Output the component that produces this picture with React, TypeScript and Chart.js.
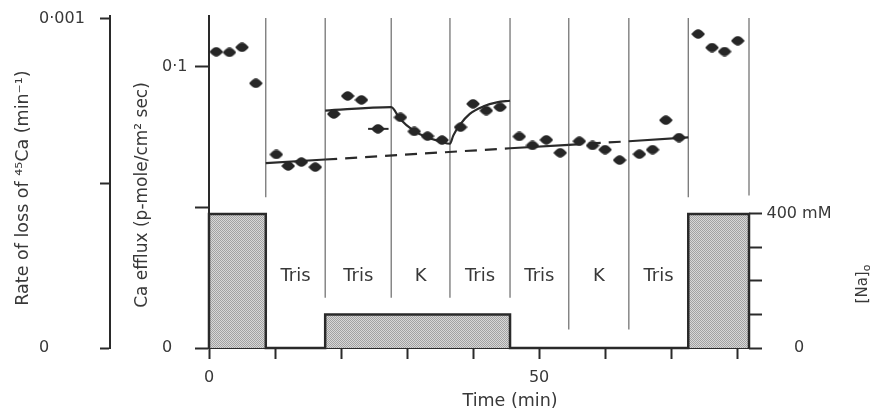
import React, { useEffect, useRef } from 'react';
import { Chart, registerables } from 'chart.js';

Chart.register(...registerables);

const FONT = '"DejaVu Sans", "Liberation Sans", sans-serif';
const INK = '#2a2a2a';
const TEXT = '#383838';

// Ca efflux measurements (time in min, efflux in p-mole/cm² sec)
const effluxTimes = [1.1, 3.1, 5.0, 7.1, 10.2, 12.0, 14.0, 16.1, 18.9, 21.0, 23.1, 25.6, 29.0, 31.1, 33.1, 35.3, 38.1, 40.0, 42.0, 44.1, 47.0, 49.0, 51.1, 53.2, 56.1, 58.1, 60.0, 62.2, 65.2, 67.2, 69.2, 71.2, 74.1, 76.2, 78.1, 80.1];
const effluxValues = [0.1053, 0.1051, 0.1069, 0.0941, 0.0688, 0.0647, 0.0661, 0.0643, 0.0832, 0.0896, 0.0882, 0.0779, 0.0820, 0.0770, 0.0753, 0.0739, 0.0785, 0.0868, 0.0844, 0.0856, 0.0752, 0.0720, 0.0740, 0.0694, 0.0735, 0.0720, 0.0705, 0.0668, 0.0689, 0.0705, 0.0810, 0.0748, 0.1116, 0.1068, 0.1054, 0.1092];

// Baseline (solid in Tris periods, dashed otherwise)
const baselineTimes = [8.6, 17.6, 45.6, 54.5, 63.6, 72.6];
const baselineValues = [0.0657, 0.0670, 0.0710, 0.0722, 0.0735, 0.0749];
const baselineDashed = [false, true, false, true, false];

// Fitted curve through the low-Na Tris / K / Tris periods
const fitTimes = [17.6, 27.6, 28.9, 31.0, 33.0, 35.0, 36.5, 37.0, 38.0, 39.5, 41.6, 43.6, 45.6];
const fitValues = [0.0844, 0.0856, 0.0815, 0.0773, 0.0749, 0.0735, 0.0726, 0.0755, 0.0793, 0.0832, 0.0859, 0.0873, 0.0879];

// Short horizontal mark through the point at 25.6 min
const markTimes = [24.1, 27.2];
const markValues = [0.0779, 0.0779];

// External Na concentration periods (mM)
const naStarts = [0, 17.6, 72.6];
const naEnds = [8.6, 45.6, 81.8];
const naLevels = [400, 100, 400];

// Solution-change dividers (time) and where they stop (in mM of the Na axis)
const dividerTimes = [8.6, 17.6, 27.6, 36.5, 45.6, 54.5, 63.6, 72.6, 81.8];
const dividerBottoms = [450, 150, 150, 150, 150, 55, 55, 450, 455];
const dividerTop = 985;

const periodNames = ['Tris', 'Tris', 'K', 'Tris', 'Tris', 'K', 'Tris'];
const periodLabelLevel = 200;

// Ticks
const timeTicks = [0, 10, 20, 30, 40, 50, 60, 70, 80];
const timeTickLabels = ['0', '', '', '', '', '50', '', '', ''];
const caTicks = [0, 0.05, 0.1];
const caTickLabels = ['0', '', '0·1'];
const rateTicks = [0, 0.0005, 0.001];
const rateTickLabels = ['0', '', '0·001'];
const naTicks = [0, 100, 200, 300, 400];
const naTickLabels = ['0', '', '', '', '400 mM'];

const annotatePlugin = {
  id: 'annotate',
  afterDraw(chart: any) {
    const { ctx, scales } = chart;
    const xs = scales.x;
    const ca = scales.ca;
    const rate = scales.rate;
    const na = scales.na;
    ctx.save();
    ctx.fillStyle = TEXT;

    // y tick labels
    ctx.font = `16px ${FONT}`;
    ctx.textBaseline = 'middle';
    ctx.textAlign = 'left';
    rateTicks.forEach((v, i) => {
      if (rateTickLabels[i]) ctx.fillText(rateTickLabels[i], rate.right - 71, rate.getPixelForValue(v));
    });
    caTicks.forEach((v, i) => {
      if (caTickLabels[i]) ctx.fillText(caTickLabels[i], ca.right - 47, ca.getPixelForValue(v));
    });
    ctx.textAlign = 'center';
    naTicks.forEach((v, i) => {
      if (naTickLabels[i]) ctx.fillText(naTickLabels[i], na.left + 50, na.getPixelForValue(v));
    });

    // period labels
    ctx.font = `18px ${FONT}`;
    ctx.textBaseline = 'alphabetic';
    ctx.textAlign = 'center';
    periodNames.forEach((name, i) => {
      const mid = (dividerTimes[i] + dividerTimes[i + 1]) / 2;
      ctx.fillText(name, xs.getPixelForValue(mid), na.getPixelForValue(periodLabelLevel));
    });

    // x title
    ctx.font = `17.5px ${FONT}`;
    ctx.fillText('Time (min)', xs.getPixelForValue(45.6), 406);

    // left titles (rotated, reading bottom to top)
    const rotated = (text: string, x: number, y: number) => {
      ctx.save();
      ctx.translate(x, y);
      ctx.rotate(-Math.PI / 2);
      ctx.textAlign = 'center';
      ctx.textBaseline = 'alphabetic';
      ctx.fillText(text, 0, 0);
      ctx.restore();
    };
    ctx.font = `17.5px ${FONT}`;
    rotated('Rate of loss of \u2074\u2075Ca (min\u207B\u00B9)', 28, 188);
    ctx.font = `17px ${FONT}`;
    rotated('Ca efflux (p-mole/cm\u00B2 sec)', 147, 195);

    // [Na]o on the right
    ctx.save();
    ctx.translate(867, 284);
    ctx.rotate(-Math.PI / 2);
    ctx.textBaseline = 'alphabetic';
    ctx.textAlign = 'left';
    ctx.font = `15px ${FONT}`;
    const w1 = ctx.measureText('[Na]').width;
    ctx.font = `11px ${FONT}`;
    const w2 = ctx.measureText('o').width;
    const start = -(w1 + w2) / 2;
    ctx.font = `15px ${FONT}`;
    ctx.fillText('[Na]', start, 0);
    ctx.font = `11px ${FONT}`;
    ctx.fillText('o', start + w1, 3);
    ctx.restore();

    ctx.restore();
  },
};

export default function App() {
  const canvasRef = useRef<HTMLCanvasElement | null>(null);

  useEffect(() => {
    const canvas = canvasRef.current;
    if (!canvas) return;
    const c2d = canvas.getContext('2d')!;

    // stippled fill (fine checkerboard)
    const pc = document.createElement('canvas');
    pc.width = 2;
    pc.height = 2;
    const p = pc.getContext('2d')!;
    p.fillStyle = '#d8d8d8';
    p.fillRect(0, 0, 2, 2);
    p.fillStyle = '#a2a2a2';
    p.fillRect(0, 0, 1, 1);
    p.fillRect(1, 1, 1, 1);
    const pattern = c2d.createPattern(pc, 'repeat');

    // lens-shaped marker
    const mk = document.createElement('canvas');
    mk.width = 14;
    mk.height = 10;
    const m = mk.getContext('2d')!;
    m.fillStyle = '#262626';
    m.beginPath();
    m.moveTo(0.2, 5);
    m.quadraticCurveTo(3.8, 0.2, 7, 0.2);
    m.quadraticCurveTo(10.2, 0.2, 13.8, 5);
    m.quadraticCurveTo(10.2, 9.8, 7, 9.8);
    m.quadraticCurveTo(3.8, 9.8, 0.2, 5);
    m.closePath();
    m.fill();

    const naPoints: { x: number; y: number }[] = [];
    naStarts.forEach((s, i) => {
      naPoints.push({ x: s, y: 0 }, { x: s, y: naLevels[i] }, { x: naEnds[i], y: naLevels[i] }, { x: naEnds[i], y: 0 });
    });

    const dividerPoints: { x: number; y: number | null }[] = [];
    dividerTimes.forEach((t, i) => {
      dividerPoints.push({ x: t, y: dividerTop }, { x: t, y: dividerBottoms[i] }, { x: t, y: null });
    });

    const chart = new Chart(canvas, {
      type: 'line',
      data: {
        datasets: [
          {
            label: 'efflux',
            data: effluxTimes.map((t, i) => ({ x: t, y: effluxValues[i] })),
            yAxisID: 'ca',
            showLine: false,
            pointStyle: mk as any,
            pointRadius: 6,
            clip: false as any,
          },
          {
            label: 'mark',
            data: markTimes.map((t, i) => ({ x: t, y: markValues[i] })),
            yAxisID: 'ca',
            borderColor: INK,
            borderWidth: 2,
            pointRadius: 0,
          },
          {
            label: 'fit',
            data: fitTimes.map((t, i) => ({ x: t, y: fitValues[i] })),
            yAxisID: 'ca',
            borderColor: INK,
            borderWidth: 2.2,
            pointRadius: 0,
            cubicInterpolationMode: 'monotone',
          },
          {
            label: 'baseline',
            data: baselineTimes.map((t, i) => ({ x: t, y: baselineValues[i] })),
            yAxisID: 'ca',
            borderColor: INK,
            borderWidth: 2.2,
            pointRadius: 0,
            segment: {
              borderDash: (ctx: any) => (baselineDashed[ctx.p0DataIndex] ? [12, 8] : undefined),
            },
          },
          {
            label: 'dividers',
            data: dividerPoints,
            yAxisID: 'na',
            borderColor: '#6a6a6a',
            borderWidth: 1.2,
            pointRadius: 0,
            spanGaps: false,
            clip: false as any,
          },
          {
            label: 'Na',
            data: naPoints,
            yAxisID: 'na',
            borderColor: INK,
            borderWidth: 2.5,
            pointRadius: 0,
            fill: 'origin',
            backgroundColor: pattern as any,
            clip: false as any,
          },
        ],
      },
      options: {
        animation: false,
        responsive: false,
        maintainAspectRatio: false,
        layout: { padding: { top: 16, left: 0, right: 0, bottom: 0 } },
        plugins: { legend: { display: false }, tooltip: { enabled: false } },
        events: [],
        scales: {
          x: {
            type: 'linear',
            min: 0,
            max: 81.8,
            afterBuildTicks: (s: any) => {
              s.ticks = timeTicks.map((v) => ({ value: v }));
            },
            afterFit: (s: any) => {
              s.height = 62;
            },
            border: { display: true, color: INK, width: 2 },
            grid: { display: true, drawOnChartArea: false, drawTicks: true, tickLength: 11, tickColor: INK, tickWidth: 2 },
            ticks: {
              autoSkip: false,
              maxRotation: 0,
              padding: 9,
              color: TEXT,
              font: { family: FONT, size: 16 },
              callback: (v: any) => timeTickLabels[timeTicks.indexOf(Number(v))] ?? '',
            },
          },
          rate: {
            type: 'linear',
            position: 'left',
            weight: 1,
            min: 0,
            max: 0.0010091,
            afterBuildTicks: (s: any) => {
              s.ticks = rateTicks.map((v) => ({ value: v }));
            },
            afterFit: (s: any) => {
              s.width = 110;
            },
            border: { display: true, color: INK, width: 2 },
            grid: { display: true, drawOnChartArea: false, drawTicks: true, tickLength: 10, tickColor: INK, tickWidth: 2 },
            ticks: { display: false },
          },
          ca: {
            type: 'linear',
            position: 'left',
            weight: 0,
            min: 0,
            max: 0.11802,
            afterBuildTicks: (s: any) => {
              s.ticks = caTicks.map((v) => ({ value: v }));
            },
            afterFit: (s: any) => {
              s.width = 99;
            },
            border: { display: true, color: INK, width: 2 },
            grid: { display: true, drawOnChartArea: false, drawTicks: true, tickLength: 14, tickColor: INK, tickWidth: 2 },
            ticks: { display: false },
          },
          na: {
            type: 'linear',
            position: 'right',
            min: 0,
            max: 991,
            afterBuildTicks: (s: any) => {
              s.ticks = naTicks.map((v) => ({ value: v }));
            },
            afterFit: (s: any) => {
              s.width = 122;
            },
            border: { display: false },
            grid: { display: true, drawOnChartArea: false, drawTicks: true, tickLength: 13, tickColor: INK, tickWidth: 2 },
            ticks: { display: false },
          },
        },
      } as any,
      plugins: [annotatePlugin],
    });

    return () => chart.destroy();
  }, []);

  return (
    <div style={{ position: 'absolute', left: 0, top: 0, width: 871, height: 410, background: '#fff' }}>
      <canvas ref={canvasRef} width={871} height={410} style={{ display: 'block' }} />
    </div>
  );
}
